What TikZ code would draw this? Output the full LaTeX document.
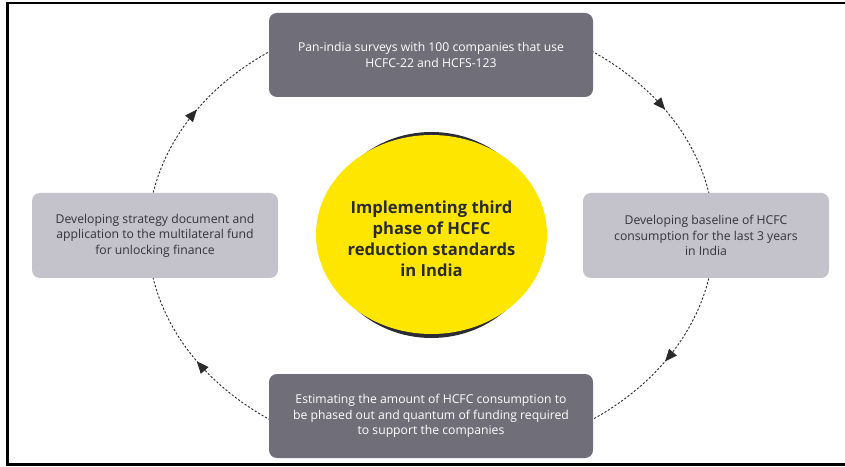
\documentclass[tikz,border=0pt]{standalone}
\usepackage{fontspec}
\setmainfont{Open Sans}
\usetikzlibrary{arrows.meta,decorations.markings,shapes.geometric}
\definecolor{boxdark}{HTML}{6F6E79}
\definecolor{boxlight}{HTML}{C4C3CB}
\definecolor{eyyellow}{HTML}{FFE600}
\definecolor{txtdark}{HTML}{343338}
\definecolor{rimdark}{HTML}{2B2B35}
\definecolor{flowcol}{HTML}{2A2A2A}
\tikzset{
  stepbox/.style={rectangle, rounded corners=8pt, inner sep=0pt, align=center,
    font=\fontsize{12.2}{15.5}\selectfont},
  darkbox/.style={stepbox, fill=boxdark, text=white},
  lightbox/.style={stepbox, fill=boxlight, text=txtdark},
  hubtext/.style={align=center, text=flowcol, inner sep=0pt,
    font=\bfseries\fontsize{16.6}{21}\selectfont},
  flow/.style={draw=flowcol, line width=0.9pt, dash pattern=on 2.2pt off 1.8pt,
    postaction={decorate},
    decoration={markings, mark=at position 0.5 with {\arrow[flowcol,solid]{Triangle[length=12pt,width=10pt]}}}},
}
\begin{document}
\begin{tikzpicture}[x=1pt,y=1pt]
\useasboundingbox (0,0) rectangle (845,466);
\clip (0,0) rectangle (845,466);
\fill[white] (0,0) rectangle (845,466);
\draw[line width=2.4pt] (850,463) -- (7.5,463) -- (7.5,1.5) -- (850,1.5);
\coordinate (c) at (431,230.5);
% dashed cycle arcs
\draw[flow] ([shift={(172:283 and 224)}]c) arc[start angle=172, end angle=122, x radius=283, y radius=224];
\draw[flow] ([shift={(58:283 and 224)}]c) arc[start angle=58, end angle=8, x radius=283, y radius=224];
\draw[flow] ([shift={(-8:283 and 224)}]c) arc[start angle=-8, end angle=-58, x radius=283, y radius=224];
\draw[flow] ([shift={(-122:283 and 224)}]c) arc[start angle=-122, end angle=-172, x radius=283, y radius=224];
% boxes
\node[darkbox, minimum width=324pt, minimum height=84pt] (top) at (431,411)
  {Pan-india surveys with 100 companies that use\\HCFC-22 and HCFS-123};
\node[darkbox, minimum width=324pt, minimum height=84pt] (bottom) at (431,50)
  {Estimating the amount of HCFC consumption to\\be phased out and quantum of funding required\\to support the companies};
\node[lightbox, minimum width=246pt, minimum height=85pt] (left) at (155,230.5)
  {Developing strategy document and\\application to the multilateral fund\\for unlocking finance};
\node[lightbox, minimum width=246pt, minimum height=85pt] (right) at (706,230.5)
  {Developing baseline of HCFC\\consumption for the last 3 years\\in India};
% central hub
\fill[rimdark] (431.5,231) ellipse[x radius=109, y radius=103];
\node[ellipse, fill=eyyellow, inner sep=0pt, minimum width=231pt, minimum height=199pt] (hub) at (431.5,231.5) {};
\node[hubtext] (hubtxt) at ([yshift=-4.5pt]hub.center)
  {Implementing third\\phase of HCFC\\reduction standards\\in India};
\end{tikzpicture}
\end{document}
